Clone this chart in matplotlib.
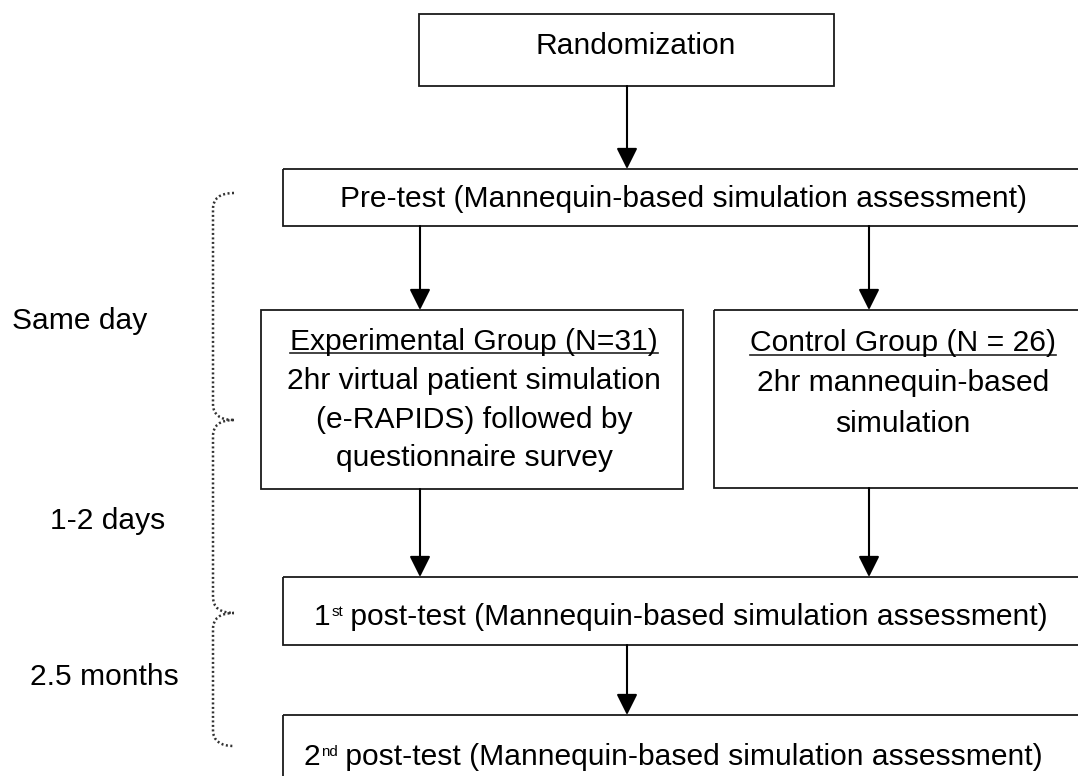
import matplotlib
matplotlib.use("Agg")
import matplotlib.pyplot as plt
from matplotlib.patches import Rectangle, PathPatch, FancyArrowPatch
from matplotlib.path import Path

plt.rcParams['font.family'] = ['Liberation Sans', 'DejaVu Sans']

# ---- content ----
randomization_text = "Randomization"
pretest_text = "Pre-test (Mannequin-based simulation assessment)"
exp_header = "Experimental Group (N=31)"
exp_lines = ["2hr virtual patient simulation", "(e-RAPIDS) followed by", "questionnaire survey"]
ctrl_header = "Control Group (N = 26)"
ctrl_lines = ["2hr mannequin-based", "simulation"]
post_numbers = ["1", "2"]
post_suffixes = ["st", "nd"]
post_rest = " post-test (Mannequin-based simulation assessment)"
interval_labels = ["Same day", "1-2 days", "2.5 months"]

W, H = 1078, 776
fig = plt.figure(figsize=(W / 100, H / 100), dpi=100)
ax = fig.add_axes([0, 0, 1, 1])
ax.set_xlim(0, W)
ax.set_ylim(H, 0)
ax.axis('off')

FS = 21.6
EC = '#1a1a1a'
LW = 1.3

def box(x0, y0, x1, y1):
    ax.add_patch(Rectangle((x0, y0), x1 - x0, y1 - y0, fill=False, ec=EC, lw=LW))

def arrow(x, y0, y1):
    ax.add_patch(FancyArrowPatch((x, y0), (x, y1),
                                 arrowstyle='-|>,head_length=0.8,head_width=0.4',
                                 mutation_scale=16, color='black', lw=1.5,
                                 shrinkA=0, shrinkB=0))

# boxes
box(419, 14, 834, 86)
box(283, 169, 1095, 226)
box(261, 310, 683, 489)
box(714, 310, 1095, 488)
box(283, 577, 1095, 645)
box(283, 715, 1095, 800)

# arrows
arrow(627, 86, 169)
arrow(420, 226, 310)
arrow(869, 226, 310)
arrow(420, 489, 577)
arrow(869, 488, 577)
arrow(627, 645, 715)

# texts
ax.text(636, 54, randomization_text, fontsize=FS, ha='center', va='baseline')
ax.text(683, 207, pretest_text, fontsize=FS, ha='center', va='baseline')

t_exp = ax.text(474, 350, exp_header, fontsize=FS, ha='center', va='baseline')
for i, s in enumerate(exp_lines):
    ax.text(474, 389 + i * 38.7, s, fontsize=FS, ha='center', va='baseline')

t_ctrl = ax.text(903, 351, ctrl_header, fontsize=FS, ha='center', va='baseline')
for i, s in enumerate(ctrl_lines):
    ax.text(903, 391 + i * 41, s, fontsize=FS, ha='center', va='baseline')

ax.text(12, 329, interval_labels[0], fontsize=FS, ha='left', va='baseline')
ax.text(50, 529, interval_labels[1], fontsize=FS, ha='left', va='baseline')
ax.text(30, 685, interval_labels[2], fontsize=FS, ha='left', va='baseline')

fig.canvas.draw()
r = fig.canvas.get_renderer()
inv = ax.transData.inverted()

def data_width(t):
    bb = t.get_window_extent(renderer=r)
    (xa, _), (xb, _) = inv.transform([(bb.x0, bb.y0), (bb.x1, bb.y1)])
    return xa, xb

# post-test lines with small superscripts
for num, suf, xc, yb in zip(post_numbers, post_suffixes, [681, 673], [625, 765]):
    t1 = ax.text(0, yb, num, fontsize=FS, ha='left', va='baseline')
    t2 = ax.text(0, yb - 9, suf, fontsize=FS * 0.5, ha='left', va='baseline')
    t3 = ax.text(0, yb, post_rest, fontsize=FS, ha='left', va='baseline')
    fig.canvas.draw()
    w1 = t1.get_window_extent(renderer=r).width
    w2 = t2.get_window_extent(renderer=r).width
    w3 = t3.get_window_extent(renderer=r).width
    total = w1 + w2 + w3
    x0 = xc - total / 2
    t1.set_x(x0)
    t2.set_x(x0 + w1 + 1)
    t3.set_x(x0 + w1 + w2)

# underlines
for t, yb in [(t_exp, 353), (t_ctrl, 355)]:
    xa, xb = data_width(t)
    ax.plot([xa, xb], [yb, yb], color='#222222', lw=1.2)

# dotted brackets
xv, xe, rad = 213, 234, 16
def bracket(y0, y1):
    verts = [(xe, y0), (xv, y0), (xv, y0 + rad),
             (xv, y1 - rad), (xv, y1), (xe, y1)]
    codes = [Path.MOVETO, Path.CURVE3, Path.CURVE3,
             Path.LINETO, Path.CURVE3, Path.CURVE3]
    ax.add_patch(PathPatch(Path(verts, codes), fill=False, ec='#333333',
                           lw=1.8, linestyle=(0, (0.8, 1.0))))

bracket(193, 420)
bracket(420, 613)
bracket(613, 746)

fig.savefig("out.png", dpi=100)
